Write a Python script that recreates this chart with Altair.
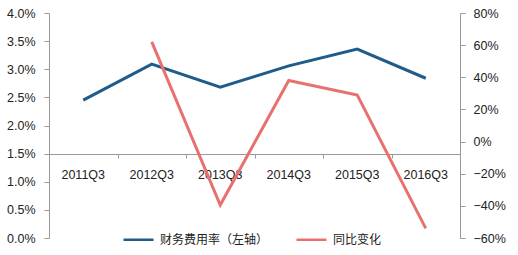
import altair as alt
import pandas as pd

quarters = ["2011Q3", "2012Q3", "2013Q3", "2014Q3", "2015Q3", "2016Q3"]
fee_rate = [0.0245, 0.0309, 0.0268, 0.0306, 0.0336, 0.0284]
yoy_quarters = ["2012Q3", "2013Q3", "2014Q3", "2015Q3", "2016Q3"]
yoy_change = [0.62, -0.395, 0.38, 0.29, -0.54]
series_names = ["财务费用率（左轴）", "同比变化"]
colors = ["#1F5C8A", "#E8716F"]

df1 = pd.DataFrame({"q": quarters, "v": fee_rate, "series": series_names[0]})
df2 = pd.DataFrame({"q": yoy_quarters, "v": yoy_change, "series": series_names[1]})

FONT = "Liberation Sans"
CJK = "Noto Sans CJK SC"
AXC = "#999999"
TXT = "#222222"

color = alt.Color(
    "series:N",
    scale=alt.Scale(domain=series_names, range=colors),
    legend=alt.Legend(
        title=None,
        orient="none",
        legendX=73,
        legendY=210,
        direction="horizontal",
        symbolType="stroke",
        symbolSize=900,
        symbolStrokeWidth=2.5,
        labelFont=CJK,
        labelFontSize=12,
        labelColor=TXT,
        labelLimit=300,
        labelOffset=5,
        columnPadding=22,
    ),
)

xscale = alt.Scale(type="band", domain=quarters, paddingInner=0, paddingOuter=0)

# axis with labels only (centered in bands)
x_labels = alt.X(
    "q:N",
    sort=quarters,
    bandPosition=0.5,
    scale=xscale,
    axis=alt.Axis(
        title=None,
        orient="bottom",
        labelAngle=0,
        offset=-84,
        ticks=False,
        domain=False,
        labelPadding=14,
        labelFont=FONT,
        labelFontSize=12.5,
        labelColor=TXT,
        grid=False,
    ),
)

# axis with domain line and ticks at band boundaries
x_ticks = alt.X(
    "q:N",
    sort=quarters,
    bandPosition=0.5,
    scale=xscale,
    axis=alt.Axis(
        title=None,
        orient="bottom",
        labels=False,
        offset=-84,
        tickBand="extent",
        tickSize=4,
        domainColor=AXC,
        tickColor=AXC,
        grid=False,
    ),
)

left = alt.Chart(df1).mark_line(strokeWidth=3).encode(
    x=x_labels,
    y=alt.Y(
        "v:Q",
        scale=alt.Scale(domain=[0, 0.04], nice=False),
        axis=alt.Axis(
            title=None,
            orient="left",
            format=".1%",
            values=[0, 0.005, 0.01, 0.015, 0.02, 0.025, 0.03, 0.035, 0.04],
            tickSize=5,
            labelPadding=9,
            domainColor=AXC,
            tickColor=AXC,
            labelFont=FONT,
            labelFontSize=12.5,
            labelColor=TXT,
            grid=False,
        ),
    ),
    color=color,
)

right = alt.Chart(df2).mark_line(strokeWidth=3).encode(
    x=x_ticks,
    y=alt.Y(
        "v:Q",
        scale=alt.Scale(domain=[-0.6, 0.8], nice=False),
        axis=alt.Axis(
            title=None,
            orient="right",
            format=".0%",
            values=[-0.6, -0.4, -0.2, 0, 0.2, 0.4, 0.6, 0.8],
            tickSize=5,
            labelPadding=8,
            domainColor=AXC,
            tickColor=AXC,
            labelFont=FONT,
            labelFontSize=12.5,
            labelColor=TXT,
            grid=False,
        ),
    ),
    color=color,
)

chart = (
    alt.layer(left, right)
    .resolve_scale(y="independent")
    .resolve_axis(x="independent")
    .properties(
        width=411,
        height=225,
        autosize=alt.AutoSizeParams(type="none"),
        padding={"left": 49, "top": 13, "right": 58, "bottom": 17},
        background="white",
    )
    .configure_view(stroke=None)
)

chart.save("out.html", embed_options={"renderer": "svg", "actions": False})
